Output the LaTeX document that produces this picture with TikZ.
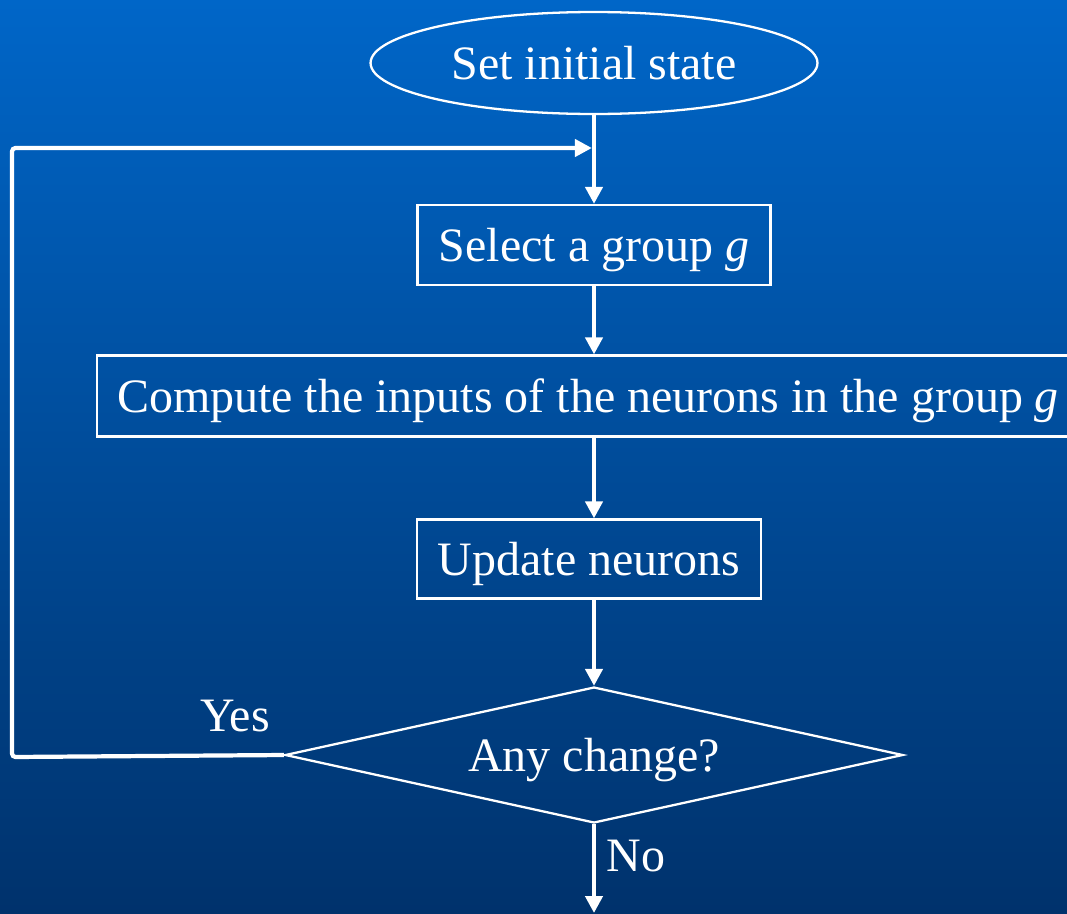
\documentclass[tikz,border=0pt]{standalone}
\usepackage{fontspec}
\setmainfont{Liberation Serif}
\usetikzlibrary{shapes.geometric,arrows.meta,positioning}

\definecolor{slidetop}{RGB}{0,102,200}
\definecolor{slidebottom}{RGB}{0,50,108}

\tikzset{
  every node/.style={text=white, font=\fontsize{27.3}{32}\selectfont},
  startbox/.style={ellipse, draw=white, line width=1.3pt, minimum width=8.94cm, minimum height=2.04cm, inner sep=0pt},
  stepbox/.style={rectangle, draw=white, line width=1.3pt, minimum height=1.6cm, inner sep=0pt, text height=0.7cm, text depth=0.06cm},
  testbox/.style={diamond, draw=white, line width=1.3pt, minimum width=12.36cm, minimum height=2.72cm, aspect=4.5, inner sep=0pt, text height=0.7cm, text depth=0.06cm},
  flow/.style={draw=white, line width=2.4pt, -{Triangle[length=0.34cm, width=0.34cm]}},
  plainlabel/.style={inner sep=0pt}
}

\begin{document}
\begin{tikzpicture}[x=0.02cm, y=-0.02cm]
        % background
        \clip (0,0) rectangle (1067,913);
        \shade[top color=slidetop, bottom color=slidebottom] (0,0) rectangle (1067,913);

        \node[startbox] (init) at (594,63) {Set initial state};
        \node[stepbox, minimum width=7.06cm] (select) at (594,245) {Select a group \textit{g}};
        \node[stepbox, minimum width=19.64cm, minimum height=1.62cm] (inputs) at (588,396) {Compute the inputs of the neurons in the group \textit{g}};
        \node[stepbox, minimum width=6.88cm, minimum height=1.58cm] (update) at (589,559) {Update neurons};
        \node[testbox] (change) at (594,755) {Any change?};

        \coordinate (join) at (594,148);
        \coordinate (exit) at (594,913);
        \coordinate (corner1) at (12,757);
        \coordinate (corner2) at (12,148);

        \draw[flow] (init.south) -- (select.north);
        \draw[flow] (select.south) -- (select.south |- inputs.north);
        \draw[flow] (select.south |- inputs.south) -- (select.south |- update.north);
        \draw[flow] (select.south |- update.south) -- (change.north);
        \draw[flow] (change.south) -- (exit);
        \draw[flow, rounded corners=2pt, shorten >=1.2pt] (change.west) -- (corner1) -- (corner2) -- (join);

        \node[plainlabel] (yes) at (235,716) {Yes};
        \node[plainlabel] (no) at (636,856) {No};
\end{tikzpicture}
\end{document}
